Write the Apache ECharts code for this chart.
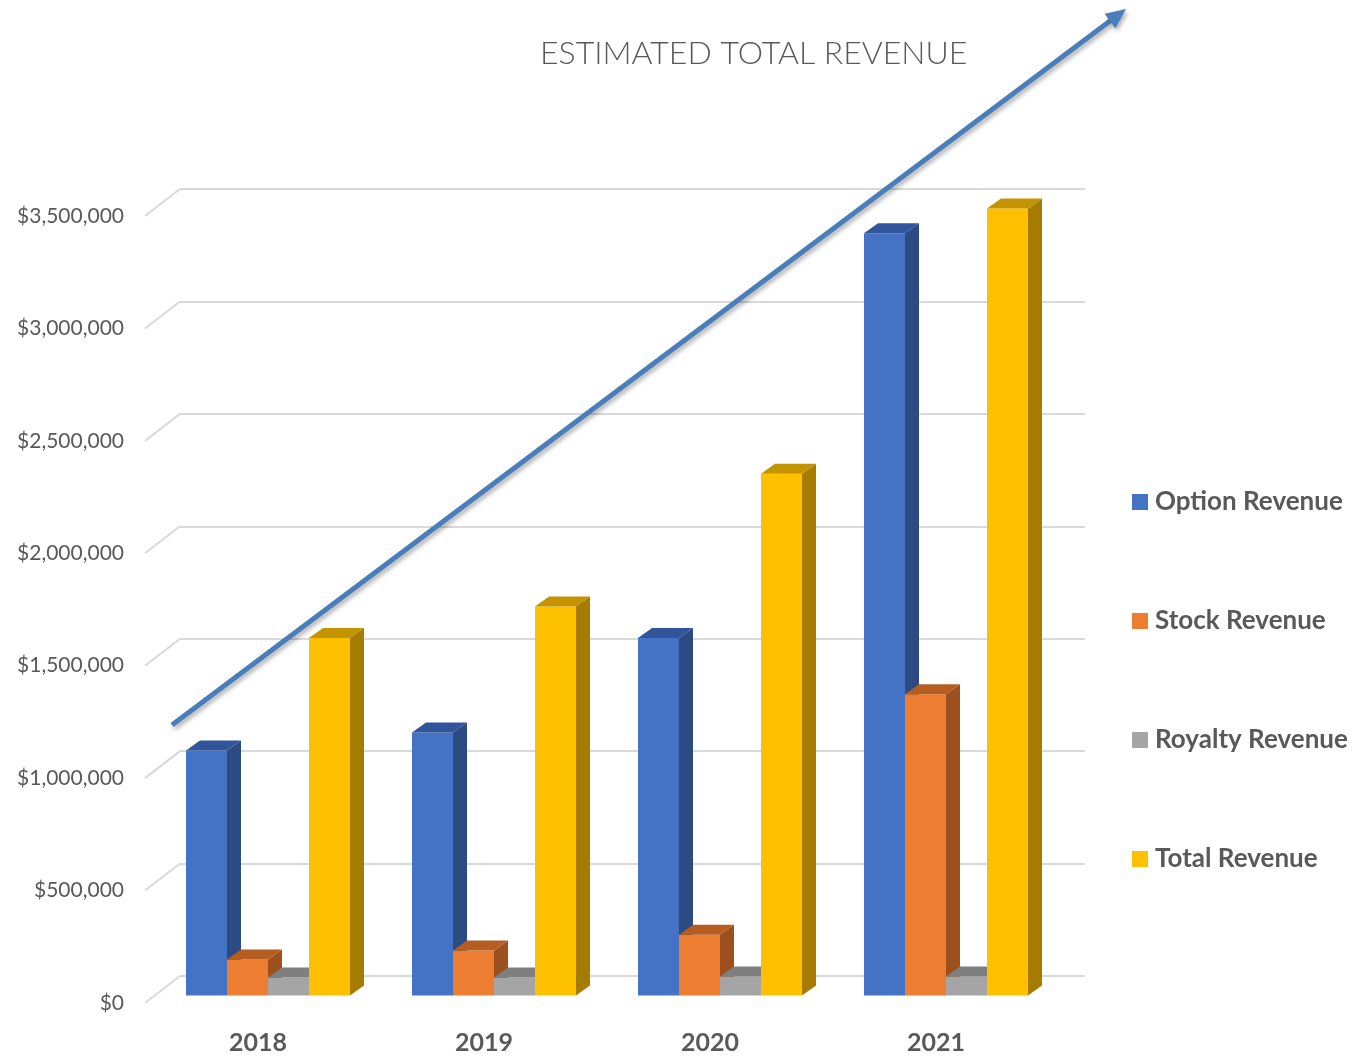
<!DOCTYPE html>
<html>
<head>
<meta charset="utf-8">
<title>Estimated Total Revenue</title>
<script src="https://cdn.jsdelivr.net/npm/echarts@6/dist/echarts.min.js"></script>
<style>
  html, body { margin: 0; padding: 0; background: #fff; }
  #chart { width: 1361px; height: 1057px; }
</style>
</head>
<body>
<div id="chart"></div>
<script>
// data
var years = ['2018', '2019', '2020', '2021'];
var optionRevenue = [1090000, 1170000, 1590000, 3390000];
var stockRevenue = [160000, 200000, 270000, 1340000];
var royaltyRevenue = [80000, 80000, 85000, 85000];
var totalRevenue = [1590000, 1730000, 2320000, 3500000];
var yTicks = [0, 500000, 1000000, 1500000, 2000000, 2500000, 3000000, 3500000];

var textGray = '#595959';
var fontName = 'Lato';

// 3d look: floor depth of the plot and the depth of one bar (pixels)
var wallDepth = [35, -27];
var barShift = [10, -7.5];
var barDepth = [14, -10];

function money(v) {
  return '$' + String(v).replace(/\B(?=(\d{3})+(?!\d))/g, ',');
}

function pairs(arr) {
  return arr.map(function (v, i) { return [i, v]; });
}

// one custom series draws the front, side and top of each bar
function bar3d(name, idx, front, side, top, values) {
  return {
    name: name,
    type: 'custom',
    xAxisIndex: 0,
    yAxisIndex: 0,
    itemStyle: { color: front },
    encode: { x: 0, y: 1 },
    data: pairs(values),
    renderItem: function (params, api) {
      var p = api.coord([api.value(0), api.value(1)]);
      var b = api.coord([api.value(0), 0]);
      var band = api.size([1, 0])[0];
      var w = band * 41 / 226;
      var x0 = p[0] + barShift[0] + (idx - 2) * w;
      var yt = p[1] + barShift[1];
      var yb = b[1] + barShift[1];
      var dx = barDepth[0], dy = barDepth[1];
      return {
        type: 'group',
        children: [
          { type: 'rect', shape: { x: x0, y: yt, width: w, height: yb - yt }, style: { fill: front } },
          { type: 'polygon', shape: { points: [[x0 + w, yt], [x0 + w + dx, yt + dy], [x0 + w + dx, yb + dy], [x0 + w, yb]] }, style: { fill: side } },
          { type: 'polygon', shape: { points: [[x0, yt], [x0 + dx, yt + dy], [x0 + w + dx, yt + dy], [x0 + w, yt]] }, style: { fill: top } }
        ]
      };
    }
  };
}

// arrow over the chart (decoration)
var arrowFrom = [172, 725], arrowTo = [1126, 9];
var ux = arrowTo[0] - arrowFrom[0], uy = arrowTo[1] - arrowFrom[1];
var len = Math.sqrt(ux * ux + uy * uy);
ux /= len; uy /= len;
var headLen = 20, headHalf = 9;
var hb = [arrowTo[0] - ux * headLen, arrowTo[1] - uy * headLen];
var arrowColor = '#4a7ebb';
var arrowShadow = { shadowBlur: 4, shadowColor: 'rgba(0,0,0,0.3)', shadowOffsetX: 2, shadowOffsetY: 3 };

var chart = echarts.init(document.getElementById('chart'));

var option = {
  backgroundColor: '#fff',
  animation: false,
  title: {
    text: 'ESTIMATED TOTAL REVENUE',
    left: 535,
    top: 33,
    textStyle: { color: textGray, fontFamily: fontName, fontWeight: 300, fontSize: 32 }
  },
  legend: {
    orient: 'vertical',
    left: 1127,
    top: 484,
    itemWidth: 16,
    itemHeight: 16,
    itemGap: 93,
    icon: 'rect',
    data: ['Option Revenue', 'Stock Revenue', 'Royalty Revenue', 'Total Revenue'],
    textStyle: { color: textGray, fontFamily: fontName, fontWeight: 'bold', fontSize: 26, padding: [0, 0, 0, 2] }
  },
  grid: [
    // front plane: value labels and bars
    { left: 145, right: 312, top: 216, bottom: 54 },
    // back wall: gridlines
    { left: 180, right: 276, top: 189, bottom: 81 }
  ],
  xAxis: [
    {
      type: 'category',
      gridIndex: 0,
      data: years,
      axisLine: { show: false },
      axisTick: { show: false },
      axisLabel: { color: textGray, fontFamily: fontName, fontWeight: 'bold', fontSize: 25, margin: 27 }
    },
    {
      type: 'value',
      gridIndex: 1,
      min: 0,
      max: 1,
      show: false
    }
  ],
  yAxis: [
    {
      type: 'value',
      gridIndex: 0,
      min: 0,
      max: 3500000,
      interval: 500000,
      axisLine: { show: false },
      axisTick: { show: false },
      splitLine: { show: false },
      axisLabel: { color: textGray, fontFamily: fontName, fontSize: 21, margin: 21, formatter: money }
    },
    {
      type: 'value',
      gridIndex: 1,
      min: 0,
      max: 3500000,
      interval: 500000,
      axisLine: { show: false },
      axisTick: { show: false },
      axisLabel: { show: false },
      splitLine: { show: true, lineStyle: { color: '#d9d9d9', width: 2 } }
    }
  ],
  series: [
    // side-wall connectors from the labels to the back wall gridlines
    {
      type: 'custom',
      xAxisIndex: 0,
      yAxisIndex: 0,
      silent: true,
      encode: { x: 0, y: 1 },
      data: yTicks.map(function (v) { return [0, v]; }),
      renderItem: function (params, api) {
        var p = api.coord([0, api.value(1)]);
        var left = p[0] - api.size([1, 0])[0] / 2;
        return {
          type: 'line',
          shape: { x1: left, y1: p[1], x2: left + wallDepth[0], y2: p[1] + wallDepth[1] },
          style: { stroke: '#d9d9d9', lineWidth: 2 }
        };
      }
    },
    bar3d('Option Revenue', 0, '#4472c4', '#2c4b82', '#31559a', optionRevenue),
    bar3d('Stock Revenue', 1, '#ed7d31', '#9c501d', '#b65d21', stockRevenue),
    bar3d('Royalty Revenue', 2, '#a5a5a5', '#6f6f6f', '#7f7f7f', royaltyRevenue),
    bar3d('Total Revenue', 3, '#ffc000', '#a67c00', '#c49400', totalRevenue)
  ],
  graphic: [
    {
      type: 'line',
      z: 100,
      shape: { x1: arrowFrom[0], y1: arrowFrom[1], x2: hb[0] + ux * 2, y2: hb[1] + uy * 2 },
      style: Object.assign({ stroke: arrowColor, lineWidth: 5 }, arrowShadow)
    },
    {
      type: 'polygon',
      z: 100,
      shape: {
        points: [
          arrowTo,
          [hb[0] - uy * headHalf, hb[1] + ux * headHalf],
          [hb[0] + uy * headHalf, hb[1] - ux * headHalf]
        ]
      },
      style: Object.assign({ fill: arrowColor }, arrowShadow)
    }
  ]
};

chart.setOption(option);
</script>
</body>
</html>
